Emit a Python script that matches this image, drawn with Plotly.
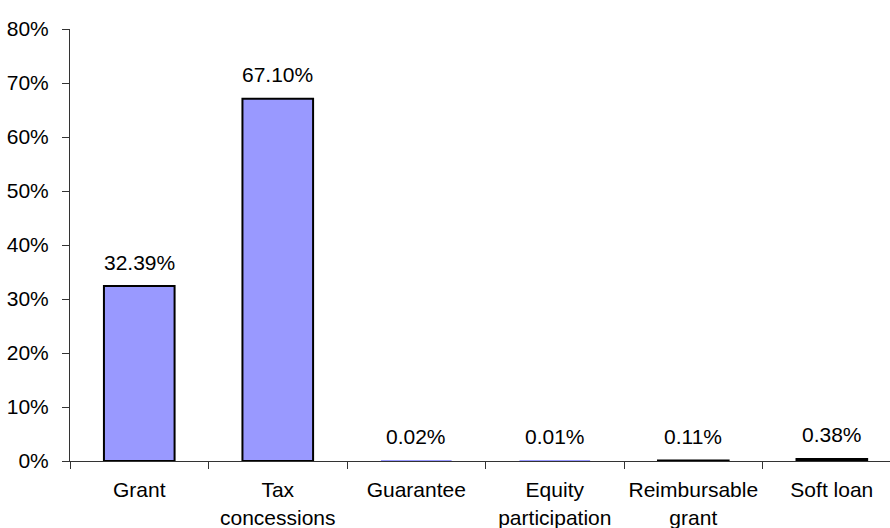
import plotly.graph_objects as go

categories = ["Grant", "Tax<br>concessions", "Guarantee", "Equity<br>participation",
              "Reimbursable<br>grant", "Soft loan"]
shares = [32.39, 67.10, 0.02, 0.01, 0.11, 0.38]
y_ticks = [0, 10, 20, 30, 40, 50, 60, 70, 80]
y_tick_labels = [f"{v}%" for v in y_ticks]

FONT = "Liberation Sans, Arial, sans-serif"

# bars thinner than a pixel on screen are drawn without an outline
outline_widths = [2 if v * 5.4 >= 0.5 else 0 for v in shares]

fig = go.Figure()
fig.add_trace(go.Bar(
    x=categories,
    y=shares,
    width=0.51,
    marker=dict(color="#9999FF", line=dict(color="black", width=outline_widths)),
    hoverinfo="skip",
))

for cat, val in zip(categories, shares):
    fig.add_annotation(
        x=cat, y=val, text=f"{val:.2f}%", showarrow=False,
        yanchor="middle", yshift=24,
        font=dict(family=FONT, size=21, color="black"),
    )

fig.update_layout(
    width=890, height=528,
    margin=dict(l=70, r=0, t=29, b=67, autoexpand=False),
    plot_bgcolor="white", paper_bgcolor="white",
    showlegend=False,
    font=dict(family=FONT, size=21, color="black"),
    xaxis=dict(
        type="category",
        range=[-0.5, 5.42],
        automargin=False,
        tickangle=0,
        showline=True, linecolor="#333333", linewidth=1,
        ticks="outside", tickson="boundaries", ticklen=7, tickcolor="#333333",
        ticklabelstandoff=10,
        showgrid=False,
        tickfont=dict(family=FONT, size=21, color="black"),
    ),
    yaxis=dict(
        range=[0, 80],
        automargin=False,
        tickvals=y_ticks, ticktext=y_tick_labels,
        showline=True, linecolor="#333333", linewidth=1,
        ticks="outside", ticklen=7, tickcolor="#333333",
        ticklabelstandoff=9,
        showgrid=False, zeroline=False,
        tickfont=dict(family=FONT, size=21, color="black"),
    ),
)

fig.write_html("out.html")
